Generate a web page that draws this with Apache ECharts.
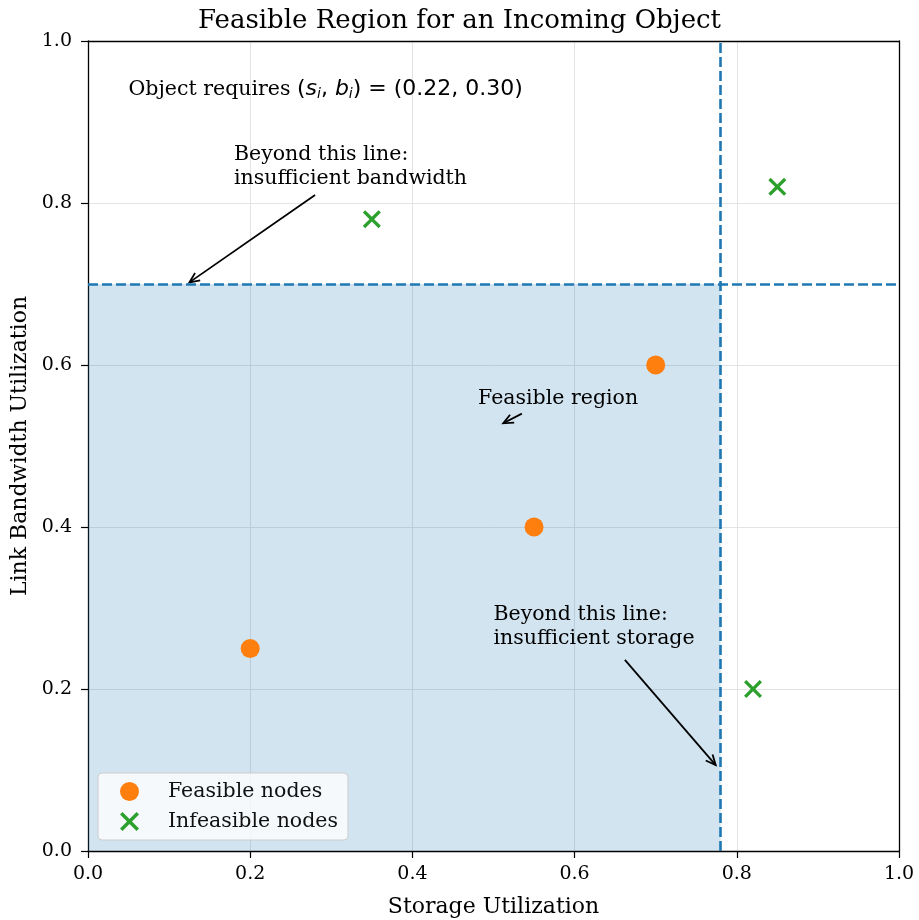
<!DOCTYPE html>
<html><head><meta charset="utf-8">
<script src="https://cdn.jsdelivr.net/npm/echarts@6/dist/echarts.min.js"></script>
<style>html,body{margin:0;padding:0;background:#fff}#c{width:919px;height:920px}</style>
</head><body><div id="c"></div>
<script>
const feasiblePts = [[0.20, 0.25], [0.55, 0.40], [0.70, 0.60]];
const infeasiblePts = [[0.35, 0.78], [0.85, 0.82], [0.82, 0.20]];
const storageLimit = 0.78;
const bandwidthLimit = 0.70;
const axisTicks = [0.0, 0.2, 0.4, 0.6, 0.8, 1.0];
const annotTexts = ['Beyond this line:\ninsufficient bandwidth', 'Feasible region', 'Beyond this line:\ninsufficient storage'];
const annotAnchors = [[0.18, 0.874], [0.481, 0.559], [0.50, 0.306]];
const arrowSegs = [[0.28, 0.81, 0.125, 0.702], [0.535, 0.540, 0.512, 0.528], [0.662, 0.236, 0.774, 0.106]];
const requireText = 'Object requires ';
const requireAnchor = [0.05, 0.94];

const SERIF = '"DejaVu Serif", serif';
const SANS = '"DejaVu Sans", sans-serif';
const XPATH = 'path://M1.3,0 L5,3.7 L8.7,0 L10,1.3 L6.3,5 L10,8.7 L8.7,10 L5,6.3 L1.3,10 L0,8.7 L3.7,5 L0,1.3 Z';

const chart = echarts.init(document.getElementById('c'), null, {renderer: 'canvas'});
const fmt = v => v.toFixed(1);
const baseAxis = {
  min: axisTicks[0], max: axisTicks[axisTicks.length - 1], interval: axisTicks[1] - axisTicks[0],
  axisLine: {show: true, onZero: false, lineStyle: {color: '#000', width: 1.3}},
  axisTick: {show: true, inside: false, length: 7, lineStyle: {color: '#000', width: 1.2}},
  axisLabel: {color: '#000', fontFamily: SERIF, fontSize: 19, formatter: fmt},
  splitLine: {show: true, lineStyle: {color: '#e3e3e3', width: 1}},
  nameTextStyle: {color: '#000', fontFamily: SERIF, fontSize: 22}
};
const frameAxis = {
  min: 0, max: 1, interval: 0.2,
  axisLine: {show: true, onZero: false, lineStyle: {color: '#000', width: 1.3}},
  axisTick: {show: false}, axisLabel: {show: false}, splitLine: {show: false}
};

chart.setOption({
  animation: false,
  backgroundColor: '#fff',
  title: {text: 'Feasible Region for an Incoming Object', left: 'center', top: 3,
    textStyle: {fontFamily: SERIF, fontSize: 26, fontWeight: 'normal', color: '#000'}},
  grid: {left: 88, right: 20, top: 41, bottom: 69, containLabel: false, outerBoundsMode: 'none'},
  xAxis: [
    Object.assign({}, baseAxis, {type: 'value', position: 'bottom', name: 'Storage Utilization',
      nameLocation: 'middle', nameGap: 45, axisLabel: Object.assign({}, baseAxis.axisLabel, {margin: 14})}),
    Object.assign({}, frameAxis, {type: 'value', position: 'top'})
  ],
  yAxis: [
    Object.assign({}, baseAxis, {type: 'value', position: 'left', name: 'Link Bandwidth Utilization',
      nameLocation: 'middle', nameGap: 57, axisLabel: Object.assign({}, baseAxis.axisLabel, {margin: 16})}),
    Object.assign({}, frameAxis, {type: 'value', position: 'right'})
  ],
  legend: {
    left: 98, bottom: 80, orient: 'vertical', itemGap: 9,
    itemWidth: 19, itemHeight: 19,
    padding: [8, 10, 8, 22],
    backgroundColor: 'rgba(255,255,255,0.78)', borderColor: '#cccccc', borderWidth: 1, borderRadius: 4,
    textStyle: {fontFamily: SERIF, fontSize: 20.5, color: '#111', padding: [0, 0, 0, 24]},
    data: ['Feasible nodes', 'Infeasible nodes']
  },
  series: [
    {
      name: 'Feasible nodes', type: 'scatter', symbol: 'circle', symbolSize: 19,
      itemStyle: {color: '#ff7f0e', opacity: 1}, z: 5,
      data: feasiblePts,
      markArea: {silent: true, itemStyle: {color: 'rgba(31,119,180,0.2)'},
        data: [[{coord: [0, 0]}, {coord: [storageLimit, bandwidthLimit]}]]},
      markLine: {silent: true, symbol: 'none', label: {show: false},
        lineStyle: {color: '#1f77b4', width: 2.6, type: [10, 4]},
        data: [{xAxis: storageLimit}, {yAxis: bandwidthLimit}]}
    },
    {
      name: 'Infeasible nodes', type: 'scatter', symbol: XPATH, symbolSize: 18,
      itemStyle: {color: '#2ca02c', opacity: 1}, z: 5,
      data: infeasiblePts
    },
    {
      type: 'custom', name: 'arrows', silent: true, z: 4,
      data: arrowSegs,
      renderItem: function (params, api) {
        const p0 = api.coord([api.value(0), api.value(1)]);
        const p1 = api.coord([api.value(2), api.value(3)]);
        const ang = Math.atan2(p1[1] - p0[1], p1[0] - p0[0]);
        const hl = 11, hw = 0.42;
        const a1 = [p1[0] - hl * Math.cos(ang - hw), p1[1] - hl * Math.sin(ang - hw)];
        const a2 = [p1[0] - hl * Math.cos(ang + hw), p1[1] - hl * Math.sin(ang + hw)];
        const st = {stroke: '#000', lineWidth: 1.8, fill: null};
        return {type: 'group', children: [
          {type: 'line', shape: {x1: p0[0], y1: p0[1], x2: p1[0], y2: p1[1]}, style: st},
          {type: 'polyline', shape: {points: [a1, p1, a2]}, style: st}
        ]};
      }
    },
    {
      type: 'custom', name: 'annotations', silent: true, z: 6,
      data: annotAnchors,
      renderItem: function (params, api) {
        const p = api.coord([api.value(0), api.value(1)]);
        const i = params.dataIndex;
        return {type: 'text', x: p[0], y: p[1], style: {
          text: annotTexts[i], fill: '#000', font: '20.5px ' + SERIF,
          align: 'left', verticalAlign: i === 1 ? 'middle' : 'top', lineHeight: 24}};
      }
    },
    {
      type: 'custom', name: 'requirement', silent: true, z: 6,
      data: [requireAnchor],
      renderItem: function (params, api) {
        const p = api.coord([api.value(0), api.value(1)]);
        return {type: 'text', x: p[0], y: p[1], style: {
          text: '{r|' + requireText + '}{m|(}{mi|s}{sub|i}{m|, }{mi|b}{sub|i}{m|) = (0.22, 0.30)}',
          align: 'left', verticalAlign: 'middle', fill: '#000',
          rich: {
            r: {fontFamily: SERIF, fontSize: 20.5, color: '#000'},
            m: {fontFamily: SANS, fontSize: 22, color: '#000'},
            mi: {fontFamily: SANS, fontSize: 22, fontStyle: 'italic', color: '#000'},
            sub: {fontFamily: SANS, fontSize: 14, fontStyle: 'italic', color: '#000', verticalAlign: 'bottom', padding: [9, 0, 0, 0]}
          }}};
      }
    }
  ]
});
</script></body></html>
